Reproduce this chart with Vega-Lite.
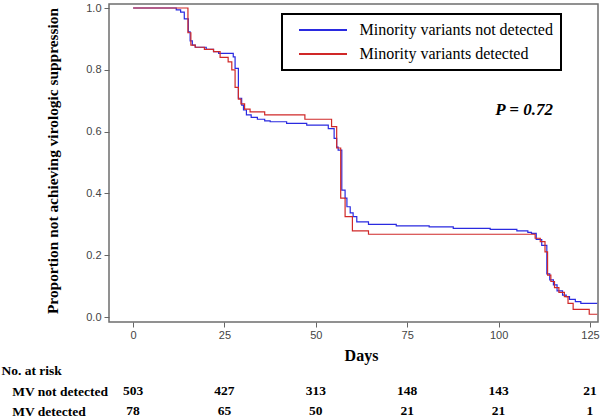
{
  "$schema": "https://vega.github.io/schema/vega-lite/v6.json",
  "autosize": {"type": "none"},
  "padding": {"left": 109, "top": 4, "right": 492, "bottom": 413},
  "background": "white",
  "bounds": "flush",
  "spacing": 59,
  "config": {"legend": {"strokeWidth": 2}},
  "vconcat": [
    {
      "width": 489,
      "height": 318,
      "view": {"stroke": "#6e6e6e", "strokeWidth": 1.5},
      "layer": [
        {
          "data": {
            "values": [
              {"group": "Minority variants not detected", "day": 0, "prop": 1.0},
              {"group": "Minority variants not detected", "day": 11.8, "prop": 0.994},
              {"group": "Minority variants not detected", "day": 13, "prop": 0.987},
              {"group": "Minority variants not detected", "day": 14, "prop": 0.965},
              {"group": "Minority variants not detected", "day": 15.1, "prop": 0.923},
              {"group": "Minority variants not detected", "day": 15.6, "prop": 0.894},
              {"group": "Minority variants not detected", "day": 16.2, "prop": 0.88},
              {"group": "Minority variants not detected", "day": 17, "prop": 0.873},
              {"group": "Minority variants not detected", "day": 20, "prop": 0.866},
              {"group": "Minority variants not detected", "day": 22, "prop": 0.859},
              {"group": "Minority variants not detected", "day": 23.4, "prop": 0.853},
              {"group": "Minority variants not detected", "day": 27.4, "prop": 0.842},
              {"group": "Minority variants not detected", "day": 27.9, "prop": 0.805},
              {"group": "Minority variants not detected", "day": 28.8, "prop": 0.708},
              {"group": "Minority variants not detected", "day": 29.7, "prop": 0.686},
              {"group": "Minority variants not detected", "day": 30.2, "prop": 0.67},
              {"group": "Minority variants not detected", "day": 31, "prop": 0.654},
              {"group": "Minority variants not detected", "day": 32.3, "prop": 0.646},
              {"group": "Minority variants not detected", "day": 34, "prop": 0.64},
              {"group": "Minority variants not detected", "day": 36, "prop": 0.635},
              {"group": "Minority variants not detected", "day": 37.5, "prop": 0.632},
              {"group": "Minority variants not detected", "day": 42, "prop": 0.627},
              {"group": "Minority variants not detected", "day": 47.5, "prop": 0.621},
              {"group": "Minority variants not detected", "day": 53.4, "prop": 0.61},
              {"group": "Minority variants not detected", "day": 55, "prop": 0.578},
              {"group": "Minority variants not detected", "day": 55.7, "prop": 0.55},
              {"group": "Minority variants not detected", "day": 56.1, "prop": 0.54},
              {"group": "Minority variants not detected", "day": 57.1, "prop": 0.411},
              {"group": "Minority variants not detected", "day": 58, "prop": 0.385},
              {"group": "Minority variants not detected", "day": 58.5, "prop": 0.357},
              {"group": "Minority variants not detected", "day": 59.4, "prop": 0.337},
              {"group": "Minority variants not detected", "day": 60.2, "prop": 0.325},
              {"group": "Minority variants not detected", "day": 61.2, "prop": 0.308},
              {"group": "Minority variants not detected", "day": 64.4, "prop": 0.3},
              {"group": "Minority variants not detected", "day": 72, "prop": 0.295},
              {"group": "Minority variants not detected", "day": 81, "prop": 0.292},
              {"group": "Minority variants not detected", "day": 87.6, "prop": 0.287},
              {"group": "Minority variants not detected", "day": 97.7, "prop": 0.284},
              {"group": "Minority variants not detected", "day": 105, "prop": 0.279},
              {"group": "Minority variants not detected", "day": 108, "prop": 0.274},
              {"group": "Minority variants not detected", "day": 109, "prop": 0.271},
              {"group": "Minority variants not detected", "day": 110.3, "prop": 0.251},
              {"group": "Minority variants not detected", "day": 111.8, "prop": 0.232},
              {"group": "Minority variants not detected", "day": 113.2, "prop": 0.14},
              {"group": "Minority variants not detected", "day": 114, "prop": 0.12},
              {"group": "Minority variants not detected", "day": 115, "prop": 0.104},
              {"group": "Minority variants not detected", "day": 116, "prop": 0.085},
              {"group": "Minority variants not detected", "day": 117.5, "prop": 0.071},
              {"group": "Minority variants not detected", "day": 118.5, "prop": 0.066},
              {"group": "Minority variants not detected", "day": 119.4, "prop": 0.057},
              {"group": "Minority variants not detected", "day": 121, "prop": 0.05},
              {"group": "Minority variants not detected", "day": 122.5, "prop": 0.044},
              {"group": "Minority variants not detected", "day": 127, "prop": 0.044},
              {"group": "Minority variants detected", "day": 0, "prop": 1.0},
              {"group": "Minority variants detected", "day": 15, "prop": 0.92},
              {"group": "Minority variants detected", "day": 15.8, "prop": 0.88},
              {"group": "Minority variants detected", "day": 17, "prop": 0.873},
              {"group": "Minority variants detected", "day": 19.5, "prop": 0.866},
              {"group": "Minority variants detected", "day": 22, "prop": 0.859},
              {"group": "Minority variants detected", "day": 23.8, "prop": 0.84},
              {"group": "Minority variants detected", "day": 26, "prop": 0.826},
              {"group": "Minority variants detected", "day": 27, "prop": 0.8},
              {"group": "Minority variants detected", "day": 27.9, "prop": 0.743},
              {"group": "Minority variants detected", "day": 28.8, "prop": 0.705},
              {"group": "Minority variants detected", "day": 29.5, "prop": 0.69},
              {"group": "Minority variants detected", "day": 30.5, "prop": 0.673},
              {"group": "Minority variants detected", "day": 32, "prop": 0.664},
              {"group": "Minority variants detected", "day": 36, "prop": 0.654},
              {"group": "Minority variants detected", "day": 47, "prop": 0.64},
              {"group": "Minority variants detected", "day": 54.3, "prop": 0.616},
              {"group": "Minority variants detected", "day": 55.7, "prop": 0.547},
              {"group": "Minority variants detected", "day": 56.8, "prop": 0.385},
              {"group": "Minority variants detected", "day": 58, "prop": 0.325},
              {"group": "Minority variants detected", "day": 60, "prop": 0.279},
              {"group": "Minority variants detected", "day": 64.4, "prop": 0.268},
              {"group": "Minority variants detected", "day": 110, "prop": 0.255},
              {"group": "Minority variants detected", "day": 111.4, "prop": 0.244},
              {"group": "Minority variants detected", "day": 112.7, "prop": 0.211},
              {"group": "Minority variants detected", "day": 113.4, "prop": 0.136},
              {"group": "Minority variants detected", "day": 114.3, "prop": 0.115},
              {"group": "Minority variants detected", "day": 115.3, "prop": 0.095},
              {"group": "Minority variants detected", "day": 116.5, "prop": 0.08},
              {"group": "Minority variants detected", "day": 118, "prop": 0.066},
              {"group": "Minority variants detected", "day": 119, "prop": 0.044},
              {"group": "Minority variants detected", "day": 120.4, "prop": 0.025},
              {"group": "Minority variants detected", "day": 124.8, "prop": 0.009},
              {"group": "Minority variants detected", "day": 127, "prop": 0.009}
            ]
          },
          "mark": {"type": "line", "interpolate": "step-after", "strokeWidth": 1.2},
          "encoding": {
            "x": {
              "field": "day", "type": "quantitative",
              "scale": {"domain": [-6.6, 127.2], "nice": false, "zero": false},
              "axis": {
                "values": [0, 25, 50, 75, 100, 125],
                "domain": false, "grid": false,
                "tickSize": 5, "tickColor": "#666666", "tickWidth": 1,
                "labelFont": "Liberation Sans", "labelFontSize": 11, "labelColor": "#444444", "labelPadding": 2,
                "title": "Days", "titleFont": "Liberation Serif", "titleFontSize": 16, "titleFontWeight": "bold", "titleColor": "black",
                "titleX": 252, "titleY": 33, "titleBaseline": "middle"
              }
            },
            "y": {
              "field": "prop", "type": "quantitative",
              "scale": {"domain": [-0.016, 1.013], "nice": false, "zero": false},
              "axis": {
                "values": [0, 0.2, 0.4, 0.6, 0.8, 1.0], "format": ".1f",
                "domain": false, "grid": false,
                "tickSize": 5, "tickColor": "#666666", "tickWidth": 1,
                "labelFont": "Liberation Sans", "labelFontSize": 11, "labelColor": "#444444", "labelPadding": 3,
                "title": "Proportion not achieving virologic suppression",
                "titleFont": "Liberation Serif", "titleFontSize": 15.4, "titleFontWeight": "bold", "titleColor": "black",
                "titleX": -57, "titleY": 156.5, "titleBaseline": "middle", "titleAngle": -90, "titleAlign": "center"
              }
            },
            "color": {
              "field": "group", "type": "nominal",
              "scale": {"domain": ["Minority variants not detected", "Minority variants detected"], "range": ["#2a2ae0", "#d02828"]},
              "legend": {
                "orient": "none", "legendX": 173, "legendY": 10, "title": null,
                "strokeColor": "black", "fillColor": "white", "padding": 8,
                "labelFont": "Liberation Serif", "labelFontSize": 16, "labelColor": "black", "labelLimit": 400,
                "labelExpr": "datum.label + '      '",
                "symbolType": "M-1,0H5.857", "symbolSize": 196, "symbolStrokeWidth": 2,
                "symbolOffset": 8, "labelOffset": 45.6, "rowPadding": 8
              }
            }
          }
        },
        {
          "data": {"values": [{"label": "P = 0.72", "day": 107, "prop": 0.67}]},
          "mark": {"type": "text", "font": "Liberation Serif", "fontSize": 17, "fontWeight": "bold", "fontStyle": "italic", "align": "center", "baseline": "middle", "color": "black"},
          "encoding": {
            "x": {"field": "day", "type": "quantitative"},
            "y": {"field": "prop", "type": "quantitative"},
            "text": {"field": "label"}
          }
        }
      ]
    },
    {
      "width": 489,
      "height": 40,
      "view": {"stroke": null},
      "data": {
        "values": [
          {"group": "MV not detected", "day": 0, "n": 503},
          {"group": "MV not detected", "day": 25, "n": 427},
          {"group": "MV not detected", "day": 50, "n": 313},
          {"group": "MV not detected", "day": 75, "n": 148},
          {"group": "MV not detected", "day": 100, "n": 143},
          {"group": "MV not detected", "day": 125, "n": 21},
          {"group": "MV detected", "day": 0, "n": 78},
          {"group": "MV detected", "day": 25, "n": 65},
          {"group": "MV detected", "day": 50, "n": 50},
          {"group": "MV detected", "day": 75, "n": 21},
          {"group": "MV detected", "day": 100, "n": 21},
          {"group": "MV detected", "day": 125, "n": 1}
        ]
      },
      "mark": {"type": "text", "font": "Liberation Serif", "fontSize": 13.5, "fontWeight": "bold", "color": "black"},
      "encoding": {
        "x": {
          "field": "day", "type": "quantitative",
          "scale": {"domain": [-6.6, 127.2], "nice": false, "zero": false},
          "axis": null
        },
        "y": {
          "field": "group", "type": "nominal",
          "scale": {"domain": ["MV not detected", "MV detected"], "paddingInner": 0, "paddingOuter": 0},
          "axis": {
            "orient": "left", "domain": false, "ticks": false, "tickSize": 0,
            "labelAlign": "left", "labelPadding": 97.3,
            "labelFont": "Liberation Serif", "labelFontSize": 13.5, "labelFontWeight": "bold", "labelColor": "black",
            "title": "No. at risk", "titleAngle": 0, "titleAlign": "left", "titleBaseline": "middle",
            "titleX": -108, "titleY": -11,
            "titleFont": "Liberation Serif", "titleFontSize": 13.5, "titleFontWeight": "bold", "titleColor": "black"
          }
        },
        "text": {"field": "n", "type": "quantitative"}
      }
    }
  ]
}
